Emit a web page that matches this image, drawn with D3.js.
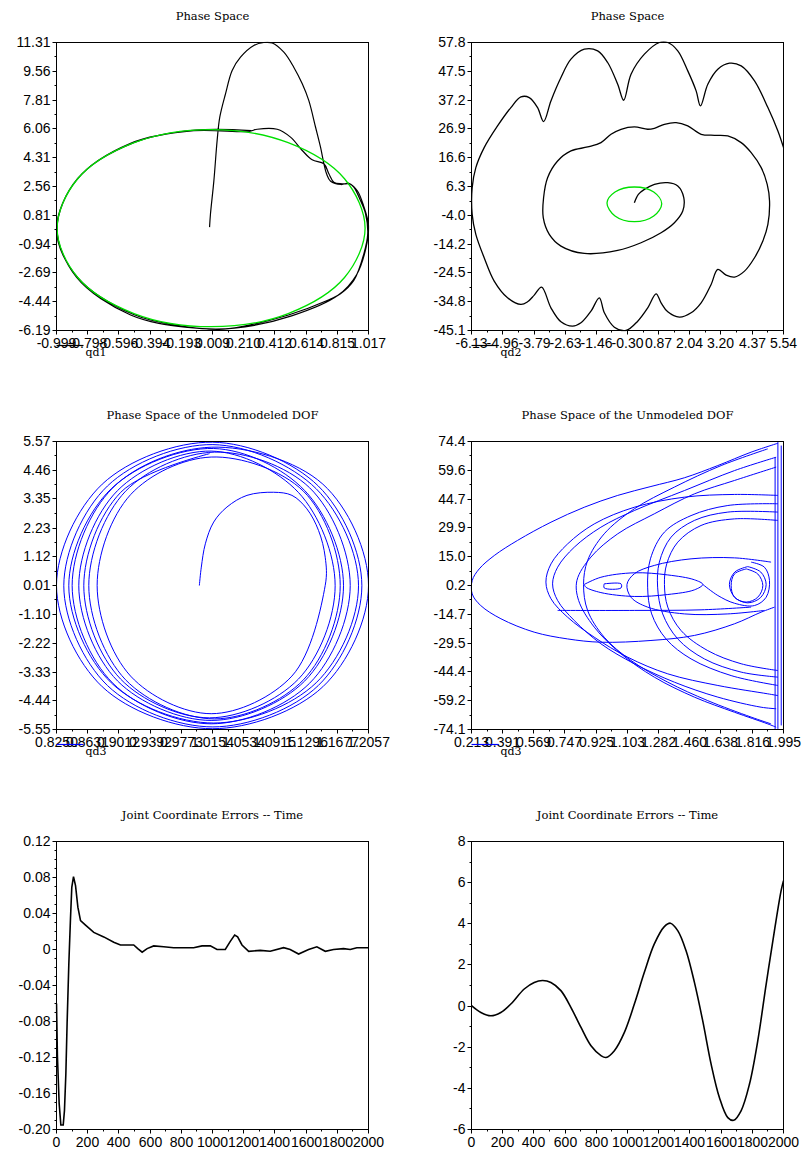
<!DOCTYPE html>
<html>
<head>
<meta charset="utf-8">
<script src="https://cdn.jsdelivr.net/npm/d3@7"></script>
<style>
body { margin: 0; background: #fff; }
svg { display: block; }
.tick text { font-family: "Liberation Sans", Arial, sans-serif; font-size: 14px; fill: #000; }
.title { font-family: "DejaVu Serif", serif; font-size: 11.5px; }
.legend { font-family: "DejaVu Serif", serif; font-size: 11px; }
</style>
</head>
<body>
<svg id="fig" width="802" height="1157"></svg>
<script>
// ---- tick labels (as printed) ----
const p1XTicks = ["-0.999","-0.798","-0.596","-0.394","-0.193","0.009","0.210","0.412","0.614","0.815","1.017"];
const p1YTicks = ["11.31","9.56","7.81","6.06","4.31","2.56","0.81","-0.94","-2.69","-4.44","-6.19"];
const p2XTicks = ["-6.13","-4.96","-3.79","-2.63","-1.46","-0.30","0.87","2.04","3.20","4.37","5.54"];
const p2YTicks = ["57.8","47.5","37.2","26.9","16.6","6.3","-4.0","-14.2","-24.5","-34.8","-45.1"];
const p3XTicks = ["0.8250","0.8631","0.9012","0.9392","0.9773","1.0154","1.0534","1.0915","1.1296","1.1677","1.2057"];
const p3YTicks = ["5.57","4.46","3.35","2.23","1.12","0.01","-1.10","-2.22","-3.33","-4.44","-5.55"];
const p4XTicks = ["0.213","0.391","0.569","0.747","0.925","1.103","1.282","1.460","1.638","1.816","1.995"];
const p4YTicks = ["74.4","59.6","44.7","29.9","15.0","0.2","-14.7","-29.5","-44.4","-59.2","-74.1"];
const timeTicks = ["0","200","400","600","800","1000","1200","1400","1600","1800","2000"];
const p5YTicks = ["0.12","0.08","0.04","0","-0.04","-0.08","-0.12","-0.16","-0.20"];
const p6YTicks = ["8","6","4","2","0","-2","-4","-6"];

const titles = ["Phase Space","Phase Space","Phase Space of the Unmodeled DOF","Phase Space of the Unmodeled DOF",
  "Joint Coordinate Errors -- Time","Joint Coordinate Errors -- Time"];
const legendLabels = ["qd1","qd2","qd3","qd3"];

// ---- panel 1: q1 vs qd1 ----
const p1Desired = [[0.995,0.03],[0.862,3.03],[0.498,5.22],[0.0,6.02],[-0.498,5.22],[-0.862,3.03],
  [-0.995,0.03],[-0.862,-2.97],[-0.498,-5.16],[0.0,-5.96],[0.498,-5.16],[0.862,-2.97]];
const p1Actual = [[-0.010,0.09],[-0.004,0.90],[0.018,2.92],[0.039,5.36],[0.056,6.77],[0.093,8.19],[0.136,9.61],
  [0.190,10.42],[0.276,11.13],[0.341,11.31],[0.395,11.28],[0.470,10.72],[0.534,9.81],[0.589,8.80],[0.631,7.79],
  [0.675,6.16],[0.707,4.95],[0.729,3.94],[0.746,3.33],[0.772,2.88],[0.840,2.68],[0.890,2.76],[0.922,2.52],
  [0.965,1.71],[0.998,0.90],[1.012,-0.32],[0.987,-1.53],[0.922,-3.15],[0.836,-3.96],[0.750,-4.37],[0.500,-5.25],
  [0.200,-5.95],[0.050,-6.12],[-0.200,-5.90],[-0.500,-5.22],[-0.860,-3.00],[-0.999,-0.10],[-0.862,3.05],
  [-0.500,5.22],[-0.112,5.95],[0.244,5.90],[0.298,6.04],[0.427,6.04],[0.513,5.56],[0.589,4.75],[0.653,4.18],
  [0.729,3.94],[0.761,3.33],[0.793,2.82],[0.847,2.72],[0.900,2.70],[0.945,2.30],[0.985,1.40],[1.017,0.20],
  [1.000,-1.20],[0.940,-2.80],[0.820,-4.05],[0.520,-5.30],[0.150,-6.05],[-0.150,-6.00],[-0.520,-5.25],
  [-0.870,-2.95],[-0.995,0.00],[-0.870,2.95],[-0.520,5.18],[-0.100,5.98],[0.260,5.95]];

// ---- panel 2: q2 vs qd2 ----
const p2Desired = [[-0.038,6.17],[0.686,4.38],[0.986,0.21],[0.686,-4.20],[-0.038,-6.23],[-0.762,-4.20],
  [-1.062,0.45],[-0.762,4.38]];
const p2Actual = [[-0.038,0.56],[0.112,3.55],[0.337,5.33],[0.711,7.12],[1.211,7.72],[1.585,6.53],[1.810,2.35],
  [1.772,-2.42],[1.460,-6.59],[0.961,-10.17],[0.212,-13.74],[-0.662,-16.49],[-1.910,-17.56],[-2.784,-14.94],
  [-3.221,-10.76],[-3.446,-4.80],[-3.434,2.35],[-3.284,9.51],[-2.909,15.47],[-2.410,19.05],[-1.786,20.48],
  [-1.286,22.03],[-0.912,25.01],[-0.537,26.80],[-0.038,27.63],[0.461,26.80],[0.711,27.16],[1.086,28.59],
  [1.523,29.18],[1.959,27.99],[2.459,25.01],[2.958,24.65],[3.457,24.41],[3.957,22.03],[4.331,18.45],
  [4.706,13.09],[4.931,7.12],[5.018,1.16],[4.956,-7.19],[4.768,-13.15],[4.456,-19.11],[4.082,-23.88],
  [3.707,-26.03],[3.395,-25.31],[3.083,-23.28],[2.833,-28.65],[2.459,-35.21],[2.084,-38.78],[1.647,-40.33],
  [1.211,-38.43],[0.961,-35.21],[0.774,-31.99],[0.462,-37.00],[0.087,-41.77],[-0.350,-45.10],[-0.787,-43.91],
  [-1.161,-38.78],[-1.349,-33.42],[-1.661,-38.19],[-2.036,-42.36],[-2.347,-43.55],[-2.784,-42.00],
  [-3.159,-37.00],[-3.508,-29.60],[-3.783,-32.46],[-4.033,-34.85],[-4.282,-35.80],[-4.782,-33.42],
  [-5.281,-27.46],[-5.656,-19.11],[-5.968,-10.76],[-6.105,-3.61],[-6.105,5.93],[-5.968,13.09],[-5.656,20.24],
  [-5.156,27.99],[-4.657,34.55],[-4.282,38.36],[-3.970,38.13],[-3.658,34.55],[-3.434,29.54],[-3.159,36.93],
  [-2.784,45.28],[-2.410,51.84],[-1.910,55.42],[-1.411,54.82],[-1.037,50.65],[-0.662,42.89],[-0.437,37.17],
  [-0.163,46.47],[0.337,53.63],[0.899,57.80],[1.211,57.80],[1.585,54.82],[1.960,47.66],[2.272,40.51],
  [2.434,35.14],[2.709,42.89],[3.083,48.26],[3.520,50.41],[3.957,49.45],[4.456,44.09],[4.956,34.55],
  [5.330,26.20],[5.542,20.24]];

// ---- panel 3: unmodeled DOF (q vs qd), left column ----
const p3Traj = [[0.9993,0.01],[1.0017,0.72],[1.0066,1.62],[1.0168,2.46],[1.0330,3.04],[1.0574,3.49],[1.0899,3.61],
  [1.1123,3.49],[1.1305,2.97],[1.1448,2.13],[1.1529,1.10],
  [1.1529,0.015],[1.1122,-3.488],[1.0138,-4.94],[0.9154,-3.488],[0.8746,0.015],[0.9154,3.518],[1.0138,4.97],
  [1.1263,3.651],[1.1712,0.01],[1.1263,-3.631],[1.0178,-5.14],[0.9093,-3.631],[0.8644,0.01],[0.9093,3.651],[1.0178,5.16],
  [1.1338,3.785],[1.1834,0.01],[1.1338,-3.765],[1.0138,-5.33],[0.8938,-3.765],[0.8441,0.01],[0.8938,3.785],[1.0138,5.35],
  [1.1500,3.923],[1.2057,0.012],[1.1500,-3.899],[1.0154,-5.52],[0.8808,-3.899],[0.8250,0.012],[0.8808,3.923],[1.0154,5.544],
  [1.1444,3.853],[1.1976,0.0],[1.1444,-3.853],[1.0158,-5.45],[0.8872,-3.853],[0.8339,0.0],[0.8872,3.853],[1.0158,5.45],
  [1.1418,3.747],[1.1935,0.0],[1.1418,-3.747],[1.0168,-5.30],[0.8918,-3.747],[0.8400,0.0],[0.8918,3.747],[1.0168,5.30],
  [1.1279,3.676],[1.1752,0.0],[1.1279,-3.676],[1.0137,-5.20],[0.8995,-3.676],[0.8522,0.0],[0.8995,3.676],[1.0137,5.20],
  [1.1201,3.606],[1.1650,0.0],[1.1201,-3.606],[1.0117,-5.10],[0.9033,-3.606],[0.8583,0.0],[0.9033,3.606],[1.0117,5.10]];

// ---- panel 4: unmodeled DOF, right column (traced pieces) ----
const p4Pieces = [
  [[1.963,73.5],[1.810,68.9],[1.620,62.0],[1.429,55.7],[1.238,51.2],[1.048,46.6],[0.857,40.5],[0.667,32.8],
   [0.476,23.4],[0.343,15.6],[0.257,8.7],[0.217,2.7],[0.217,-4.2],[0.266,-10.2],[0.381,-17.0],[0.571,-23.9],
   [0.762,-27.4],[0.952,-29.1],[1.238,-28.2],[1.486,-25.6],[1.715,-19.6],[1.867,-13.6],[1.944,-11.0]],
  [[0.705,-12.7],[1.143,-12.7],[1.524,-12.4],[1.810,-11.0]],
  [[1.963,46.6],[1.715,47.1],[1.429,45.7],[1.143,40.5],[0.914,31.9],[0.762,21.6],[0.667,11.3],[0.638,1.9],
   [0.667,-6.7],[0.762,-16.2],[0.914,-26.5],[1.105,-36.8],[1.334,-45.4],[1.620,-51.4],[1.905,-55.7],[1.963,-56.6]],
  [[1.953,66.3],[1.715,59.4],[1.429,49.1],[1.143,38.8],[0.952,30.2],[0.800,19.9],[0.705,9.6],[0.676,1.0],
   [0.705,-7.6],[0.800,-17.9],[0.952,-29.9],[1.143,-40.2],[1.372,-49.7],[1.620,-57.4],[1.867,-62.6],[1.953,-63.4]],
  [[1.953,61.2],[1.715,54.3],[1.486,47.4],[1.257,37.1],[1.048,26.8],[0.895,14.8],[0.815,2.7],[0.825,-7.6],
   [0.914,-21.3],[1.067,-35.1],[1.257,-47.1],[1.486,-57.4],[1.715,-65.2],[1.905,-71.2],[1.953,-72.9]],
  [[1.905,70.6],[1.639,62.0],[1.372,50.9],[1.143,39.7],[0.971,26.8],[0.876,13.0],[0.853,0.7],[0.876,-12.7],
   [0.971,-26.5],[1.124,-38.5],[1.334,-49.7],[1.562,-59.2],[1.810,-67.7],[1.924,-71.2]],
  [[0.857,0.7],[0.952,4.4],[1.143,6.7],[1.334,5.6],[1.486,3.1],[1.534,0.7],[1.486,-2.1],[1.334,-4.5],
   [1.143,-5.5],[0.952,-3.5],[0.866,-0.7],[0.857,0.7]],
  [[1.534,0.7],[1.620,-5.0],[1.715,-9.0],[1.829,-10.2],[1.896,-5.9],[1.915,2.7],[1.886,9.6],[1.810,12.2]],
  [[1.791,9.9],[1.865,7.1],[1.896,0.7],[1.865,-6.0],[1.791,-8.8],[1.717,-6.0],[1.686,0.7],[1.717,7.1],[1.791,9.9]],
  [[1.782,8.7],[1.848,6.1],[1.877,0.1],[1.848,-5.9],[1.782,-8.4],[1.715,-5.9],[1.696,0.1],[1.715,6.1],[1.782,8.7]],
  [[1.963,33.7],[1.715,34.5],[1.524,31.1],[1.391,22.5],[1.328,11.3],[1.315,0.7],[1.334,-11.0],[1.410,-23.1],
   [1.562,-33.4],[1.753,-40.2],[1.963,-43.7]],
  [[1.963,38.0],[1.677,38.0],[1.486,33.7],[1.353,25.1],[1.286,12.2],[1.276,-0.7],[1.305,-14.5],[1.391,-27.4],
   [1.543,-37.7],[1.753,-44.5],[1.963,-47.1]],
  [[1.963,42.3],[1.677,41.4],[1.467,36.2],[1.315,27.7],[1.235,13.9],[1.219,-0.7],[1.242,-14.5],[1.324,-27.4],
   [1.467,-37.7],[1.696,-46.3],[1.963,-51.4]],
  [[1.924,12.2],[1.715,14.4],[1.467,13.9],[1.257,10.5],[1.143,6.2],[1.101,0.7],[1.124,-5.9],[1.219,-11.0],
   [1.429,-14.5],[1.677,-14.5],[1.886,-12.7]],
  [[0.971,1.0],[1.067,1.0],[1.067,-1.1],[0.971,-1.1],[0.971,1.0]]
];
const p4Walls = [
  [[1.963,74.1],[1.963,-73.8]],
  [[1.982,72.3],[1.982,-72.0]],
  [[1.947,66.3],[1.947,-74.1]]
];

// ---- panel 5 / 6: joint errors over time ----
const p5Time = [0,6,17,28,43,51,60,68,79,90,98,109,122,137,154,186,239,303,367,410,495,521,549,581,623,687,751,
  879,933,986,1029,1082,1114,1142,1161,1189,1232,1306,1370,1456,1498,1552,1616,1669,1723,1776,1840,1883,1925,2000];
const p5Error = [-0.060,-0.119,-0.171,-0.195,-0.195,-0.179,-0.138,-0.082,-0.016,0.036,0.069,0.081,0.071,0.047,
  0.032,0.027,0.019,0.014,0.008,0.005,0.005,0.001,-0.003,0.001,0.004,0.003,0.002,0.002,0.004,0.004,0.0,0.0,
  0.009,0.016,0.014,0.005,-0.002,-0.001,-0.002,0.002,0.0,-0.005,0.0,0.003,-0.002,0.0,0.001,0.0,0.002,0.002];
const p6Time = [0,60,124,188,252,338,402,456,509,573,637,702,766,830,862,916,980,1044,1108,1172,1236,1275,1322,
  1375,1429,1482,1536,1589,1643,1681,1728,1782,1835,1889,1942,1985,2000];
const p6Error = [0.02,-0.31,-0.47,-0.31,0.10,0.83,1.15,1.24,1.15,0.75,-0.06,-1.04,-1.93,-2.41,-2.50,-2.17,-1.28,
  0.10,1.64,3.02,3.86,4.03,3.67,2.70,1.15,-0.71,-2.82,-4.44,-5.42,-5.55,-5.09,-3.79,-1.69,1.07,3.67,5.62,6.10];

// ---- layout ----
const svg = d3.select("#fig");
const boxW = 312, boxH = 288;
const cols = [56, 471];
const rows = [42, 441, 841];

function drawPanel(i, xLabels, yLabels, yMinor, draw, legendColor) {
    const left = cols[i % 2], top = rows[Math.floor(i / 2)];
    const xv = xLabels.map(Number), yv = yLabels.map(Number);
    const x = d3.scaleLinear().domain([xv[0], xv[xv.length - 1]]).range([0, boxW]);
    const y = d3.scaleLinear().domain([d3.min(yv), d3.max(yv)]).range([boxH, 0]);

    const g = svg.append("g").attr("transform", `translate(${left + 0.5},${top + 0.5})`);

    g.append("text").attr("class", "title")
        .attr("x", boxW / 2).attr("y", -23)
        .attr("text-anchor", "middle")
        .text(titles[i]);

    // minor ticks
    const xMinorV = d3.pairs(xv).map(p => (p[0] + p[1]) / 2);
    const yMinorV = [];
    d3.pairs(yv).forEach(p => {
        for (let k = 1; k <= yMinor; k++) yMinorV.push(p[0] + (p[1] - p[0]) * k / (yMinor + 1));
    });
    g.selectAll(".xm").data(xMinorV).enter().append("line")
        .attr("x1", d => Math.round(x(d))).attr("x2", d => Math.round(x(d)))
        .attr("y1", boxH).attr("y2", boxH + 2).attr("stroke", "#000");
    g.selectAll(".ym").data(yMinorV).enter().append("line")
        .attr("y1", d => Math.round(y(d))).attr("y2", d => Math.round(y(d)))
        .attr("x1", -2).attr("x2", 0).attr("stroke", "#000");

    const xAxis = d3.axisBottom(x).tickValues(xv).tickFormat((d, k) => xLabels[k])
        .tickSize(4).tickSizeOuter(0).tickPadding(4);
    const yAxis = d3.axisLeft(y).tickValues(yv).tickFormat((d, k) => yLabels[k])
        .tickSize(4).tickSizeOuter(0).tickPadding(2);
    const gx = g.append("g").attr("transform", `translate(0,${boxH})`).call(xAxis);
    const gy = g.append("g").call(yAxis);
    gx.select(".domain").remove();
    gy.select(".domain").remove();
    gx.selectAll(".tick").attr("transform", d => `translate(${Math.round(x(d))},0)`);
    gy.selectAll(".tick").attr("transform", d => `translate(0,${Math.round(y(d))})`);
    svg.selectAll(".tick line").attr("stroke", "#000");

    const clipId = "clip" + i;
    g.append("clipPath").attr("id", clipId)
        .append("rect").attr("x", -1).attr("y", -1).attr("width", boxW + 2).attr("height", boxH + 2);
    const plot = g.append("g").attr("clip-path", `url(#${clipId})`);
    draw(plot, x, y);

    g.append("rect").attr("width", boxW).attr("height", boxH)
        .attr("fill", "none").attr("stroke", "#000");

    if (legendColor) {
        g.append("line").attr("x1", 0).attr("x2", 27).attr("y1", boxH + 15).attr("y2", boxH + 15)
            .attr("stroke", legendColor).attr("stroke-width", 1.2);
        g.append("text").attr("class", "legend")
            .attr("x", 29).attr("y", boxH + 25).text(legendLabels[i]);
    }
}

function phaseLine(x, y, curve) {
    return d3.line().x(d => x(d[0])).y(d => y(d[1])).curve(curve);
}

drawPanel(0, p1XTicks, p1YTicks, 1, (p, x, y) => {
    p.append("path").attr("d", phaseLine(x, y, d3.curveCatmullRom)(p1Actual))
        .attr("fill", "none").attr("stroke", "#000").attr("stroke-width", 1.2);
    p.append("path").attr("d", phaseLine(x, y, d3.curveCatmullRomClosed)(p1Desired))
        .attr("fill", "none").attr("stroke", "#00e000").attr("stroke-width", 1.3);
}, "#000");

drawPanel(1, p2XTicks, p2YTicks, 1, (p, x, y) => {
    p.append("path").attr("d", phaseLine(x, y, d3.curveCatmullRom)(p2Actual))
        .attr("fill", "none").attr("stroke", "#000").attr("stroke-width", 1.3);
    p.append("path").attr("d", phaseLine(x, y, d3.curveCatmullRomClosed)(p2Desired))
        .attr("fill", "none").attr("stroke", "#00e000").attr("stroke-width", 1.3);
}, "#000");

drawPanel(2, p3XTicks, p3YTicks, 1, (p, x, y) => {
    p.append("path").attr("d", phaseLine(x, y, d3.curveCatmullRom)(p3Traj))
        .attr("fill", "none").attr("stroke", "#0000ff").attr("stroke-width", 1);
}, "#0000ff");

drawPanel(3, p4XTicks, p4YTicks, 1, (p, x, y) => {
    p.selectAll(".piece").data(p4Pieces).enter().append("path")
        .attr("d", phaseLine(x, y, d3.curveCatmullRom))
        .attr("fill", "none").attr("stroke", "#0000ff").attr("stroke-width", 1);
    p.selectAll(".wall").data(p4Walls).enter().append("path")
        .attr("d", phaseLine(x, y, d3.curveLinear))
        .attr("fill", "none").attr("stroke", "#0000ff").attr("stroke-width", 1);
}, "#0000ff");

drawPanel(4, timeTicks, p5YTicks, 3, (p, x, y) => {
    const line = d3.line().x((d, k) => x(p5Time[k])).y(d => y(d));
    p.append("path").attr("d", line(p5Error))
        .attr("fill", "none").attr("stroke", "#000").attr("stroke-width", 1.6);
}, null);

drawPanel(5, timeTicks, p6YTicks, 1, (p, x, y) => {
    const line = d3.line().x((d, k) => x(p6Time[k])).y(d => y(d)).curve(d3.curveCatmullRom);
    p.append("path").attr("d", line(p6Error))
        .attr("fill", "none").attr("stroke", "#000").attr("stroke-width", 1.6);
}, null);
</script>
</body>
</html>
